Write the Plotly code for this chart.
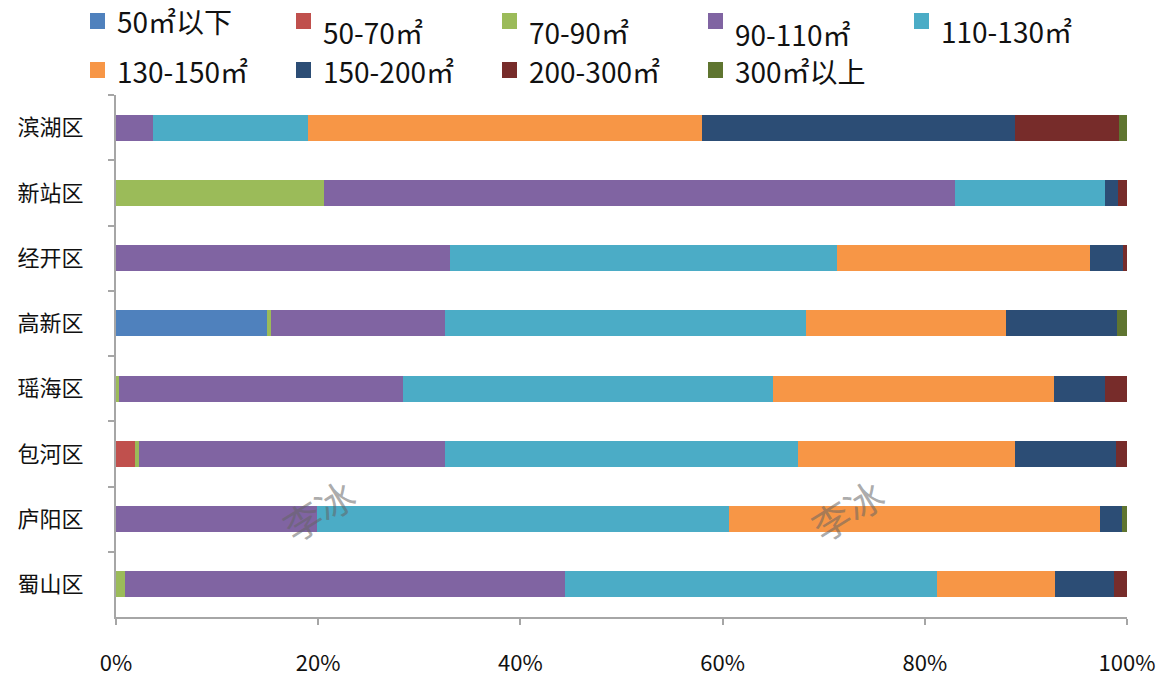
import plotly.graph_objects as go

# Districts, top to bottom
districts = ["滨湖区", "新站区", "经开区", "高新区", "瑶海区", "包河区", "庐阳区", "蜀山区"]

# Floor-area bands and their colours
bands = ["50㎡以下", "50-70㎡", "70-90㎡", "90-110㎡", "110-130㎡",
         "130-150㎡", "150-200㎡", "200-300㎡", "300㎡以上"]
colors = ["#4F81BD", "#C0504D", "#9BBB59", "#8064A2", "#4BACC6",
          "#F79646", "#2C4D75", "#772C2A", "#5F7530"]

# Share (%) of each band per district, in district order
below_50 = [0, 0, 0, 14.9, 0, 0, 0, 0]
s_50_70 = [0, 0, 0, 0, 0, 1.9, 0, 0]
s_70_90 = [0, 20.6, 0, 0.4, 0.3, 0.4, 0, 0.9]
s_90_110 = [3.7, 62.4, 33.0, 17.2, 28.1, 30.2, 19.9, 43.5]
s_110_130 = [15.3, 14.8, 38.3, 35.7, 36.6, 35.0, 40.7, 36.8]
s_130_150 = [39.0, 0, 25.0, 19.8, 27.8, 21.4, 36.7, 11.7]
s_150_200 = [30.9, 1.3, 3.3, 11.0, 5.0, 10.0, 2.2, 5.8]
s_200_300 = [10.3, 0.9, 0.4, 0, 2.2, 1.1, 0, 1.3]
above_300 = [0.8, 0, 0, 1.0, 0, 0, 0.5, 0]

series = [below_50, s_50_70, s_70_90, s_90_110, s_110_130,
          s_130_150, s_150_200, s_200_300, above_300]

xticks = [0, 20, 40, 60, 80, 100]
xticktext = ["0%", "20%", "40%", "60%", "80%", "100%"]

FONT = "Noto Sans CJK SC, Noto Sans, sans-serif"
W, H = 1157, 679
ML, MR, MT, MB = 116, 30, 95, 62
PW, PH = W - ML - MR, H - MT - MB

fig = go.Figure()
for name, vals, col in zip(bands, series, colors):
    fig.add_trace(go.Bar(
        y=districts, x=[v if v > 0 else None for v in vals], name=name,
        orientation="h", marker=dict(color=col, line=dict(width=0)),
        showlegend=False,
    ))


def px_x(px):
    return (px - ML) / PW


def px_y(py):
    return (H - MB - py) / PH


# Legend laid out in two rows of five columns
label_drop = [0, 11, 11, 13, 10, 1, 1, 1, 1]
shapes = []
annotations = []
for i, (name, col) in enumerate(zip(bands, colors)):
    row, c = divmod(i, 5)
    left = 90 + c * 206
    cy = 21 + row * 49
    shapes.append(dict(type="rect", xref="paper", yref="paper",
                       x0=px_x(left), x1=px_x(left + 15),
                       y0=px_y(cy + 8), y1=px_y(cy - 8),
                       fillcolor=col, line=dict(width=0)))
    annotations.append(dict(xref="paper", yref="paper", x=px_x(left + 25),
                            y=px_y(cy + label_drop[i]),
                            xanchor="left", yanchor="middle", showarrow=False,
                            text=name, font=dict(family=FONT, size=28, color="#111111")))

# Watermark text
for xv in (20.0, 72.3):
    annotations.append(dict(x=xv, y=5.85, xref="x", yref="y", text="李冰",
                            showarrow=False, textangle=-32,
                            font=dict(family=FONT, size=38, color="rgba(100,100,100,0.55)")))

fig.update_layout(
    template="none",
    barmode="stack",
    bargap=0.6,
    width=W, height=H,
    margin=dict(l=ML, r=MR, t=MT, b=MB, pad=0),
    paper_bgcolor="white", plot_bgcolor="white",
    font=dict(family=FONT, color="#111111"),
    shapes=shapes,
    annotations=annotations,
    xaxis=dict(range=[0, 100], tickvals=xticks, ticktext=xticktext,
               automargin=False, showgrid=False, zeroline=False, showline=True,
               linecolor="#a6a6a6", linewidth=2, ticks="outside", ticklen=6,
               tickcolor="#a6a6a6", tickwidth=2, ticklabelstandoff=20,
               tickfont=dict(family=FONT, size=22, color="#111111")),
    yaxis=dict(type="category", categoryorder="array", categoryarray=districts,
               autorange="reversed", automargin=False, showgrid=False, zeroline=False,
               showline=True, linecolor="#a6a6a6", linewidth=2,
               ticks="outside", ticklen=6, tickcolor="#a6a6a6", tickwidth=2,
               tickson="boundaries", ticklabelstandoff=26,
               tickfont=dict(family=FONT, size=22, color="#111111")),
)

fig.write_html("out.html")
